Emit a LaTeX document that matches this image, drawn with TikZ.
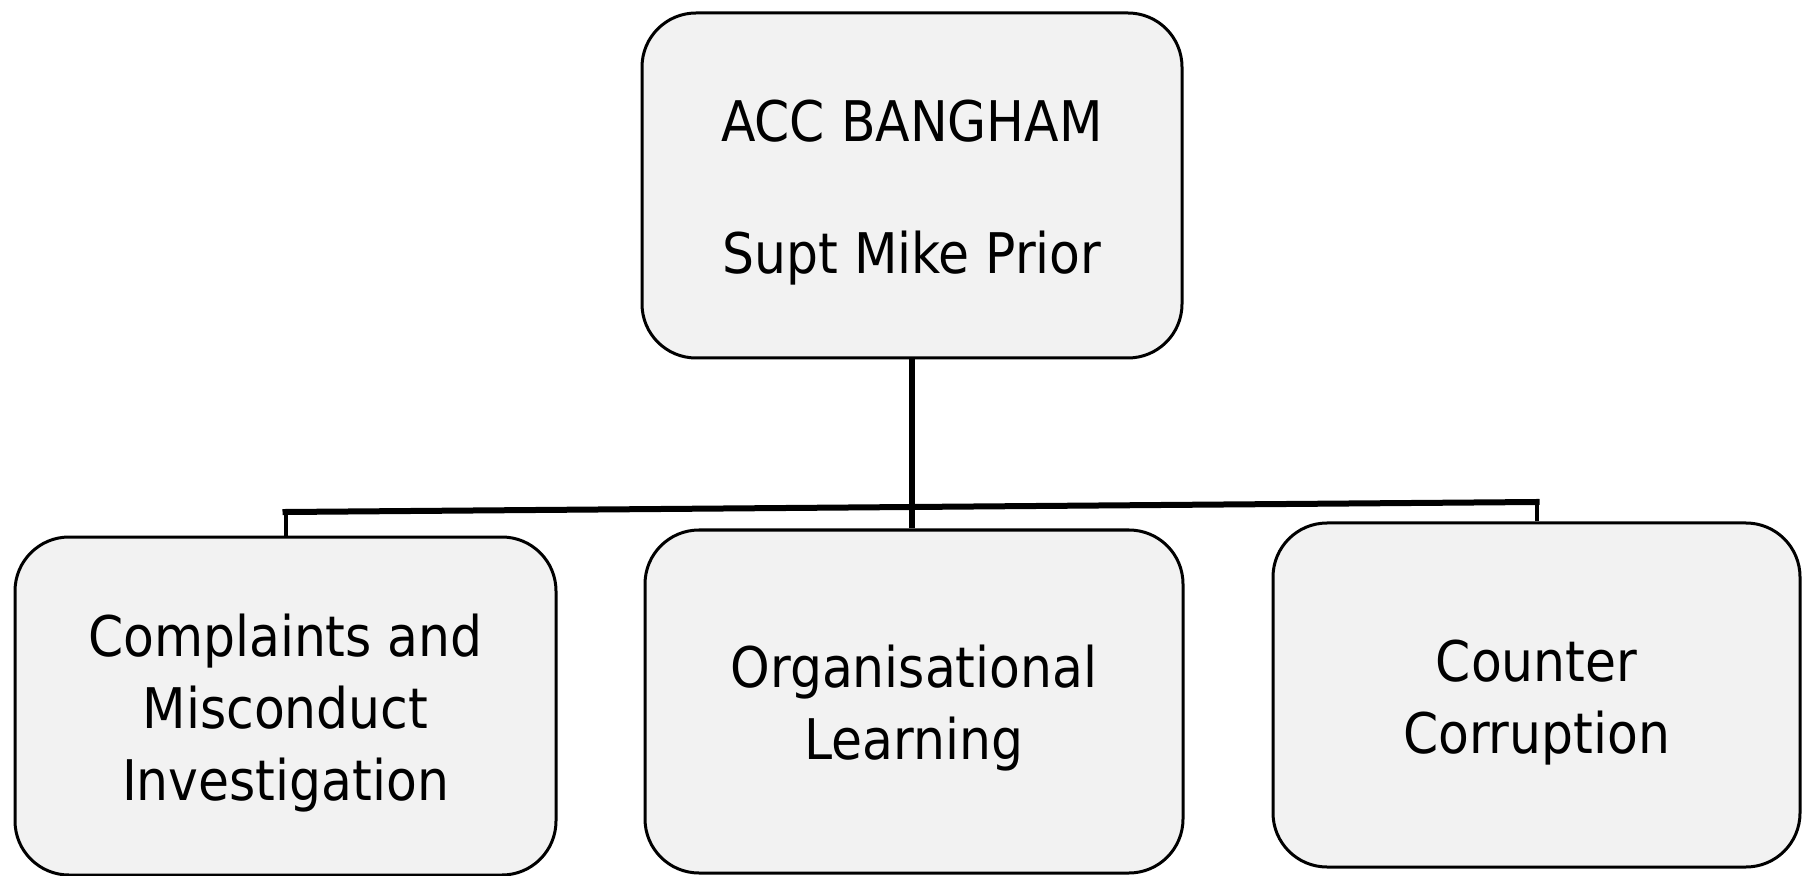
\documentclass[tikz,border=0pt]{standalone}
\usepackage{fontspec}
\setmainfont{DejaVu Sans Condensed}
\newcommand{\tstrut}{\rule{0pt}{28pt}}
\begin{document}
\begin{tikzpicture}[x=0.5pt,y=-0.5pt,
  box/.style={draw=black, line width=1.5pt, fill=black!5, rounded corners=27pt,
    align=center, inner sep=0pt, font=\fontsize{28pt}{36pt}\selectfont},
  trunk/.style={draw=black, line width=2.8pt},
  bar/.style={draw=black, line width=3pt, line cap=rect},
  drop/.style={draw=black, line width=2pt}]
\useasboundingbox[fill=white] (0,0) rectangle (1803,876);

\node[box, minimum width=270pt, minimum height=172.5pt] (top) at (912,185.5)
  {\tstrut ACC BANGHAM\\[30pt]Supt Mike Prior};
\node[box, minimum width=270.5pt, minimum height=169pt] (L) at (285.5,706)
  {\tstrut Complaints and\\Misconduct\\Investigation};
\node[box, minimum width=269pt, minimum height=171.5pt] (M) at (914,701.5)
  {\tstrut Organisational\\Learning};
\node[box, minimum width=263.5pt, minimum height=172pt] (R) at (1536.5,695)
  {\tstrut Counter\\Corruption};

\coordinate (busL) at (0,512);
\coordinate (busR) at (0,502);
\draw[trunk] (top.south) -- (top.south |- M.north);
\draw[drop] (L.north) -- ([yshift=1.5pt]L.north |- busL);
\draw[drop] (R.north) -- ([yshift=1.5pt]R.north |- busR);
\draw[bar] (L.north |- busL) -- (R.north |- busR);
\end{tikzpicture}
\end{document}
